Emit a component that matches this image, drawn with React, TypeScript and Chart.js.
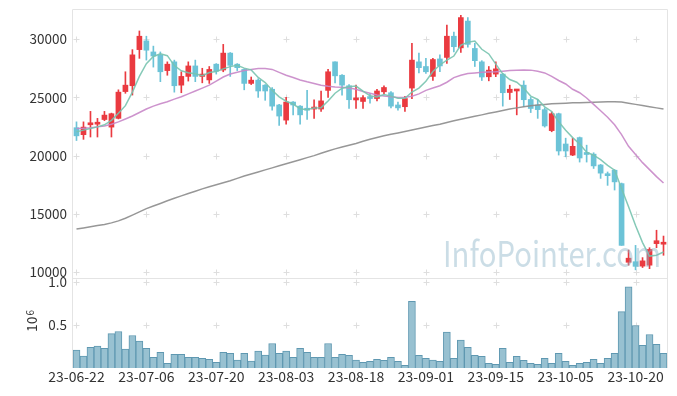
import React, { useEffect, useRef } from 'react';
import { Chart, registerables } from 'chart.js';

Chart.register(...registerables);

const dates = [
  '23-06-22', '23-06-23', '23-06-26', '23-06-27', '23-06-28', '23-06-29', '23-06-30', '23-07-03', '23-07-04', '23-07-05',
  '23-07-06', '23-07-07', '23-07-10', '23-07-11', '23-07-12', '23-07-13', '23-07-14', '23-07-17', '23-07-18', '23-07-19',
  '23-07-20', '23-07-21', '23-07-24', '23-07-25', '23-07-26', '23-07-27', '23-07-28', '23-07-31', '23-08-01', '23-08-02',
  '23-08-03', '23-08-04', '23-08-07', '23-08-08', '23-08-09', '23-08-10', '23-08-11', '23-08-14', '23-08-16', '23-08-17',
  '23-08-18', '23-08-21', '23-08-22', '23-08-23', '23-08-24', '23-08-25', '23-08-28', '23-08-29', '23-08-30', '23-08-31',
  '23-09-01', '23-09-04', '23-09-05', '23-09-06', '23-09-07', '23-09-08', '23-09-11', '23-09-12', '23-09-13', '23-09-14',
  '23-09-15', '23-09-18', '23-09-19', '23-09-20', '23-09-21', '23-09-22', '23-09-25', '23-09-26', '23-09-27', '23-10-04',
  '23-10-05', '23-10-06', '23-10-10', '23-10-11', '23-10-12', '23-10-13', '23-10-16', '23-10-17', '23-10-18', '23-10-19',
  '23-10-20', '23-10-23', '23-10-24', '23-10-25', '23-10-26',
];

const opens = [
  22400, 21800, 22650, 22700, 23100, 22450, 23200, 25500, 26000, 29100,
  29850, 28900, 28650, 27300, 28050, 26050, 26800, 27700, 26800, 26500,
  27850, 27350, 28800, 27850, 27400, 26200, 26480, 26050, 25700, 24350,
  23050, 24600, 24250, 24050, 24000, 24000, 25600, 28050, 26900, 26000,
  24780, 24650, 25050, 24900, 25480, 25400, 24350, 24200, 25800, 28050,
  27650, 26800, 28300, 28430, 30250, 29250, 31550, 29200, 28050, 26770,
  27000, 27000, 25420, 25550, 26050, 24820, 24340, 23950, 22150, 23600,
  21000, 20050, 21550, 20270, 20130, 19200, 18420, 18750, 17600, 10850,
  10900, 10520, 10600, 12450, 12400,
];
const highs = [
  22900, 22900, 23800, 23200, 23800, 23650, 25650, 27200, 29100, 30700,
  30250, 29400, 28900, 28050, 28200, 27200, 28050, 28200, 27500, 27650,
  27900, 29550, 28850, 27900, 27450, 26750, 26600, 26100, 25850, 24400,
  25000, 24650, 24300, 25600, 24800, 25550, 27400, 28050, 26950, 26100,
  26050, 25150, 25300, 25700, 26000, 25500, 24600, 25100, 29650, 28800,
  28350, 28350, 28650, 31200, 30600, 32050, 31850, 29650, 28150, 27650,
  28050, 27050, 26050, 25650, 26420, 25000, 24820, 24100, 23750, 23650,
  21500, 21500, 21600, 20900, 20250, 19250, 18600, 18800, 17650, 11900,
  12300, 11250, 12100, 13600, 13100,
];
const lows = [
  21300, 21400, 21600, 21600, 23000, 21600, 23150, 25350, 25200, 28350,
  28200, 27600, 26350, 26900, 25450, 25400, 26400, 26350, 26250, 26200,
  27000, 27200, 26800, 27300, 25650, 26100, 25000, 24750, 23900, 22600,
  22700, 23500, 22700, 23100, 23200, 23800, 25000, 26250, 25200, 24050,
  24050, 24050, 24500, 24700, 25300, 24100, 23900, 23800, 24900, 27100,
  27050, 26450, 27200, 27910, 28900, 28850, 29300, 27650, 26450, 26420,
  26780, 24250, 24820, 23500, 24200, 23700, 23200, 22450, 22050, 20050,
  19900, 20000, 19450, 19450, 18900, 18050, 17450, 17050, 12300, 10600,
  10200, 10400, 10300, 12100, 11450,
];
const closes = [
  21700, 22450, 22750, 22850, 23480, 23600, 25450, 26050, 28650, 30250,
  29050, 28550, 27200, 27850, 26000, 26800, 27700, 26800, 27000, 27400,
  27250, 28800, 27750, 27550, 26200, 26480, 25550, 25550, 24250, 23400,
  24600, 24350, 23500, 23900, 24150, 24700, 27200, 26850, 26050, 24800,
  24950, 24980, 24900, 25550, 25850, 24250, 24100, 24900, 28200, 27550,
  27200, 28250, 27700, 30250, 29350, 31850, 29550, 28150, 26750, 27340,
  27450, 25400, 25700, 25620, 24800, 24050, 23950, 22550, 23600, 20400,
  20400, 20800, 19800, 20100, 19120, 18500, 18280, 17750, 12300, 11200,
  10500, 10970, 11950, 12700, 12550,
];

// volume in millions (10^6)
const volumes = [
  0.208, 0.139, 0.239, 0.254, 0.227, 0.400, 0.424, 0.219, 0.377, 0.312,
  0.227, 0.123, 0.181, 0.054, 0.158, 0.158, 0.123, 0.123, 0.112, 0.100,
  0.066, 0.181, 0.170, 0.092, 0.170, 0.081, 0.196, 0.150, 0.285, 0.170,
  0.196, 0.123, 0.227, 0.181, 0.123, 0.123, 0.285, 0.123, 0.158, 0.146,
  0.092, 0.066, 0.077, 0.100, 0.089, 0.123, 0.077, 0.031, 0.774, 0.146,
  0.112, 0.092, 0.077, 0.416, 0.112, 0.323, 0.239, 0.146, 0.135, 0.054,
  0.043, 0.227, 0.066, 0.135, 0.089, 0.054, 0.043, 0.112, 0.054, 0.170,
  0.077, 0.031, 0.054, 0.066, 0.100, 0.054, 0.112, 0.170, 0.654, 0.943,
  0.493, 0.262, 0.389, 0.274, 0.170,
];

const ma5 = [
  22040, 22190, 22330, 22470, 22650, 23030, 23630, 24290, 25450, 26800,
  27890, 28510, 28740, 28580, 27730, 27280, 27110, 27030, 26860, 27140,
  27230, 27450, 27640, 27750, 27510, 27360, 26710, 26270, 25610, 25050,
  24670, 24430, 24020, 23950, 24100, 24120, 24690, 25360, 25790, 25920,
  25970, 25530, 25140, 25040, 25250, 25110, 24930, 24930, 25460, 25800,
  26390, 27220, 27780, 28190, 28550, 29480, 29740, 29830, 29130, 28730,
  27850, 27020, 26530, 26300, 25790, 25110, 24820, 24190, 23790, 22910,
  22180, 21550, 21000, 20300, 20040, 19660, 19160, 18750, 17190, 15610,
  14010, 12540, 11380, 11460, 11730,
];
const ma20 = [
  22330, 22350, 22400, 22470, 22550, 22700, 22900, 23150, 23400, 23700,
  24000, 24250, 24450, 24620, 24850, 25050, 25300, 25550, 25800, 26050,
  26400, 26750, 27000, 27150, 27300, 27400, 27480, 27470, 27400, 27150,
  26900, 26700, 26500, 26340, 26200, 26050, 25950, 25900, 25870, 25800,
  25700, 25500, 25350, 25200, 25120, 25050, 25000, 25020, 25100, 25300,
  25600, 25800, 26000, 26300, 26700, 26900, 27050, 27100, 27150, 27180,
  27200, 27250, 27300, 27330, 27350, 27340, 27250, 27100, 26800, 26450,
  26150, 25700, 25400, 24950, 24400, 23850, 23300, 22650, 21800, 20800,
  20100, 19400, 18800, 18200, 17650,
];
const ma120 = [
  13700, 13800, 13900, 14000, 14100, 14230, 14400, 14630, 14900, 15180,
  15450, 15680, 15900, 16130, 16350, 16550, 16750, 16950, 17150, 17330,
  17500, 17680, 17850, 18050, 18250, 18430, 18600, 18780, 18950, 19130,
  19300, 19480, 19650, 19830, 20000, 20200, 20400, 20580, 20750, 20900,
  21050, 21230, 21400, 21550, 21700, 21830, 21950, 22080, 22200, 22330,
  22450, 22580, 22700, 22850, 23000, 23130, 23250, 23380, 23500, 23630,
  23750, 23880, 24000, 24100, 24200, 24280, 24350, 24400, 24450, 24480,
  24500, 24530, 24550, 24570, 24580, 24600, 24620, 24630, 24600, 24500,
  24400, 24300, 24200, 24100, 24000,
];

const priceTicks = [10000, 15000, 20000, 25000, 30000];
const volumeTicks = [0.5, 1.0];
const xTickEvery = 10;

const UP = '#ea3a40';
const DOWN = '#6cc3d7';
const FONT = "'Noto Sans CJK KR', 'Noto Sans', sans-serif";

export default function App() {
  const ref = useRef<HTMLCanvasElement>(null);

  useEffect(() => {
    const canvas = ref.current;
    if (!canvas) return;
    const colors = closes.map((c, i) => (c >= opens[i] ? UP : DOWN));

    const decor = {
      id: 'decor',
      beforeDatasetsDraw(chart: any) {
        const { ctx, chartArea } = chart;
        const xs = chart.scales.x;
        const ys = chart.scales.y;
        const yv = chart.scales.yv;
        ctx.save();
        // crosses
        ctx.strokeStyle = '#dedede';
        ctx.lineWidth = 1;
        const xPix: number[] = [];
        for (let i = 0; i < dates.length; i += xTickEvery) xPix.push(Math.round(xs.getPixelForValue(i)) + 0.5);
        const yPix: number[] = [];
        priceTicks.forEach((t) => yPix.push(Math.round(ys.getPixelForValue(t)) + 0.5));
        volumeTicks.forEach((t) => yPix.push(Math.round(yv.getPixelForValue(t)) + 0.5));
        ctx.beginPath();
        xPix.forEach((px) => {
          yPix.forEach((py) => {
            ctx.moveTo(px - 3, py);
            ctx.lineTo(px + 3, py);
            ctx.moveTo(px, py - 3);
            ctx.lineTo(px, py + 3);
          });
        });
        ctx.stroke();
        // spines
        ctx.strokeStyle = '#e4e4e4';
        const L = Math.round(chartArea.left) - 0.5;
        const R = Math.round(chartArea.right) + 0.5;
        const T = Math.round(chartArea.top) - 0.5;
        const B = Math.round(chartArea.bottom);
        const S = Math.round(ys.bottom) + 0.5;
        ctx.beginPath();
        ctx.moveTo(L, B);
        ctx.lineTo(L, T);
        ctx.lineTo(R, T);
        ctx.lineTo(R, B);
        ctx.moveTo(L, S);
        ctx.lineTo(R, S);
        ctx.stroke();
        ctx.restore();
      },
      afterDatasetsDraw(chart: any) {
        const { ctx } = chart;
        ctx.save();
        // watermark
        ctx.font = `35px ${FONT}`;
        const txt = 'InfoPointer.com';
        const w = ctx.measureText(txt).width;
        ctx.translate(443, 267);
        ctx.scale(218 / w, 1);
        ctx.fillStyle = 'rgba(140,180,200,0.45)';
        ctx.textBaseline = 'alphabetic';
        ctx.fillText(txt, 0, 0);
        ctx.restore();

        // volume axis title 10^6
        ctx.save();
        ctx.fillStyle = '#333';
        ctx.translate(37, 332);
        ctx.rotate(-Math.PI / 2);
        ctx.textBaseline = 'alphabetic';
        ctx.font = `14px ${FONT}`;
        ctx.fillText('10', 0, 0);
        const w10 = ctx.measureText('10').width;
        ctx.font = `10px ${FONT}`;
        ctx.fillText('6', w10 + 1, -3);
        ctx.restore();
      },
    };

    const tickFont = { family: FONT, size: 13.5 };

    const chart = new Chart(canvas, {
      type: 'bar',
      data: {
        labels: dates,
        datasets: [
          {
            type: 'line', label: 'MA5', data: ma5, yAxisID: 'y', borderColor: 'rgba(120,195,175,0.9)',
            borderWidth: 1.5, pointRadius: 0, fill: false, tension: 0, order: 1,
          } as any,
          {
            type: 'line', label: 'MA20', data: ma20, yAxisID: 'y', borderColor: 'rgba(200,135,200,0.9)',
            borderWidth: 1.5, pointRadius: 0, fill: false, tension: 0, order: 1,
          },
          {
            type: 'line', label: 'MA120', data: ma120, yAxisID: 'y', borderColor: 'rgba(140,140,140,0.9)',
            borderWidth: 1.5, pointRadius: 0, fill: false, tension: 0, order: 1,
          },
          {
            type: 'bar', label: 'body', data: opens.map((o, i) => [o, closes[i]]), yAxisID: 'y',
            backgroundColor: colors, barThickness: 5, grouped: false, minBarLength: 2, order: 2,
          },
          {
            type: 'bar', label: 'wick', data: lows.map((l, i) => [l, highs[i]]), yAxisID: 'y',
            backgroundColor: colors, barThickness: 1, grouped: false, order: 3,
          },
          {
            type: 'bar', label: 'volume', data: volumes, yAxisID: 'yv',
            backgroundColor: '#98c1d1', borderColor: '#5f98b1', borderWidth: 1,
            barPercentage: 1, categoryPercentage: 1, grouped: false, order: 4,
          },
        ] as any,
      },
      options: {
        animation: false,
        responsive: false,
        maintainAspectRatio: false,
        devicePixelRatio: 1,
        events: [],
        layout: { padding: { top: 10, right: 10, left: 0, bottom: 0 } },
        plugins: { legend: { display: false }, tooltip: { enabled: false } },
        scales: {
          x: {
            type: 'category',
            offset: true,
            grid: { display: false, drawTicks: false },
            border: { display: false },
            ticks: { autoSkip: false, maxRotation: 0, minRotation: 0, padding: 0, color: '#333', font: { family: FONT, size: 14 } },
            afterBuildTicks: (s: any) => {
              s.ticks = s.ticks.filter((t: any) => t.value % xTickEvery === 0);
            },
            afterFit: (s: any) => {
              s.height = 28;
              s.paddingLeft = 0;
              s.paddingRight = 0;
            },
          },
          y: {
            type: 'linear',
            position: 'left',
            stack: 'panels',
            stackWeight: 2.978,
            weight: 1,
            min: 9500,
            max: 32500,
            grid: { display: false, drawTicks: false },
            border: { display: false },
            ticks: { padding: 6, color: '#333', font: tickFont, callback: (v: any) => String(v) },
            afterBuildTicks: (s: any) => {
              s.ticks = priceTicks.map((v) => ({ value: v }));
            },
            afterFit: (s: any) => {
              s.width = 73;
              s.paddingTop = 0;
              s.paddingBottom = 0;
            },
          },
          yv: {
            type: 'linear',
            position: 'left',
            stack: 'panels',
            stackWeight: 1,
            weight: 0,
            min: 0,
            max: 1.045,
            grid: { display: false, drawTicks: false },
            border: { display: false },
            ticks: { padding: 6, color: '#333', font: tickFont, callback: (v: any) => Number(v).toFixed(1) },
            afterBuildTicks: (s: any) => {
              s.ticks = volumeTicks.map((v) => ({ value: v }));
            },
            afterFit: (s: any) => {
              s.width = 73;
              s.paddingTop = 0;
              s.paddingBottom = 0;
            },
          },
        } as any,
      },
      plugins: [decor],
    });

    return () => chart.destroy();
  }, []);

  return (
    <div style={{ position: 'absolute', left: 0, top: 0, width: 677, height: 396, background: '#fff' }}>
      <canvas ref={ref} width={677} height={396} style={{ display: 'block' }} />
    </div>
  );
}
